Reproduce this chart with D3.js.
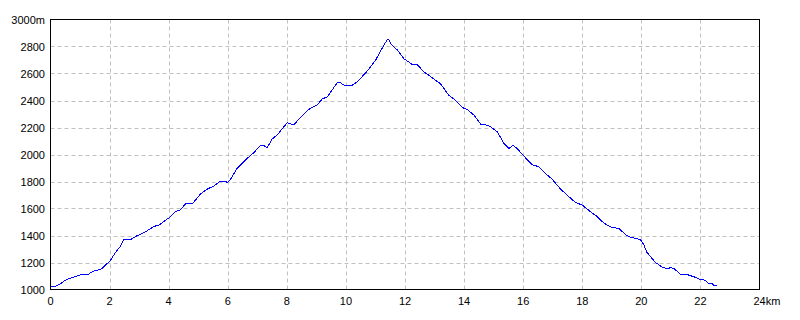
<!DOCTYPE html>
<html>
<head>
<meta charset="utf-8">
<script src="https://cdn.jsdelivr.net/npm/d3@7"></script>
<style>
  body { margin: 0; background: #fff; }
  text { font-family: "Liberation Sans", Arial, sans-serif; font-size: 11px; fill: #000; }
</style>
</head>
<body>
<script>
// distance (km) and elevation (m)
const distKm = [0, 0.17, 0.34, 0.51, 0.73, 1.02, 1.24, 1.47, 1.69, 1.8, 2.03, 2.2, 2.37, 2.48, 2.71, 2.88,
  3.22, 3.5, 3.67, 4.01, 4.23, 4.4, 4.57, 4.8, 5.08, 5.3, 5.53, 5.75, 5.92, 5.98, 6.09, 6.32, 6.66,
  6.88, 7.11, 7.22, 7.33, 7.5, 7.67, 8.01, 8.24, 8.46, 8.74, 9.03, 9.2, 9.37, 9.59, 9.71, 9.82, 9.95,
  10.21, 10.38, 10.72, 11.0, 11.28, 11.4, 11.45, 11.53, 11.74, 11.96, 12.24, 12.41, 12.64, 12.86,
  13.03, 13.2, 13.48, 13.71, 13.94, 14.1, 14.33, 14.56, 14.73, 14.9, 15.12, 15.35, 15.52, 15.66,
  15.8, 16.02, 16.31, 16.53, 16.81, 16.98, 17.27, 17.6, 17.77, 17.99, 18.28, 18.5, 18.73, 18.96,
  19.24, 19.47, 19.63, 19.8, 19.97, 20.08, 20.19, 20.47, 20.7, 20.87, 20.99, 21.1, 21.33, 21.55,
  21.78, 22.0, 22.17, 22.28, 22.4, 22.45, 22.57];
const elevM = [1025, 1025, 1044, 1069, 1089, 1108, 1108, 1138, 1148, 1167, 1216, 1275, 1320, 1369, 1369, 1393,
  1428, 1467, 1477, 1531, 1576, 1590, 1635, 1635, 1708, 1743, 1767, 1802, 1802, 1792, 1815, 1898, 1972,
  2013, 2068, 2068, 2048, 2114, 2144, 2235, 2220, 2275, 2334, 2368, 2412, 2427, 2496, 2533, 2530, 2513,
  2513, 2537, 2618, 2697, 2808, 2850, 2850, 2815, 2774, 2710, 2668, 2668, 2611, 2579,
  2550, 2525, 2439, 2402, 2348, 2334, 2292, 2225, 2220, 2205, 2168, 2083, 2046, 2068,
  2043, 1989, 1923, 1910, 1849, 1817, 1743, 1677, 1644, 1627, 1576, 1541, 1492, 1463,
  1452, 1406, 1386, 1379, 1369, 1332, 1275, 1202, 1167, 1153, 1162, 1157, 1111, 1111,
  1094, 1074, 1069, 1044, 1042, 1030, 1030];

const xTicks = [0, 2, 4, 6, 8, 10, 12, 14, 16, 18, 20, 22, 24];
const yTicks = [1000, 1200, 1400, 1600, 1800, 2000, 2200, 2400, 2600, 2800, 3000];

const W = 800, H = 320;
const plotL = 50.5, plotR = 759.5, plotT = 19.5, plotB = 289.5;

const svg = d3.select("body").append("svg")
  .attr("width", W)
  .attr("height", H);

const x = d3.scaleLinear().domain([0, 24]).range([plotL, plotR]);
const y = d3.scaleLinear().domain([1000, 3000]).range([plotB, plotT]);

// grid
svg.append("g").selectAll("line")
  .data(xTicks.slice(1, -1))
  .join("line")
  .attr("x1", d => Math.round(x(d)) + 0.5).attr("x2", d => Math.round(x(d)) + 0.5)
  .attr("y1", plotT).attr("y2", plotB)
  .attr("stroke", "#c0c0c0").attr("stroke-dasharray", "4,3");

svg.append("g").selectAll("line")
  .data(yTicks.slice(1, -1))
  .join("line")
  .attr("y1", d => Math.round(y(d)) + 0.5).attr("y2", d => Math.round(y(d)) + 0.5)
  .attr("x1", plotL).attr("x2", plotR)
  .attr("stroke", "#c0c0c0").attr("stroke-dasharray", "4,3");

// frame
svg.append("rect")
  .attr("x", plotL).attr("y", plotT)
  .attr("width", plotR - plotL).attr("height", plotB - plotT)
  .attr("fill", "none").attr("stroke", "#000");

// labels
svg.append("g").selectAll("text")
  .data(yTicks)
  .join("text")
  .attr("x", 45)
  .attr("y", d => y(d) + 4)
  .attr("text-anchor", "end")
  .text(d => d === 3000 ? d + "m" : d);

svg.append("g").selectAll("text")
  .data(xTicks)
  .join("text")
  .attr("x", d => d === 24 ? x(d) - 6 : x(d))
  .attr("y", 305)
  .attr("text-anchor", d => d === 24 ? "start" : "middle")
  .text(d => d === 24 ? d + "km" : d);

// profile (aliased like the original)
const pts = distKm.map((d, i) => [d, elevM[i]]);
svg.append("path")
  .datum(pts)
  .attr("fill", "none")
  .attr("stroke", "#0000ff")
  .attr("stroke-width", 1)
  .attr("shape-rendering", "crispEdges")
  .attr("d", d3.line().x(d => x(d[0])).y(d => y(d[1])));
</script>
</body>
</html>
